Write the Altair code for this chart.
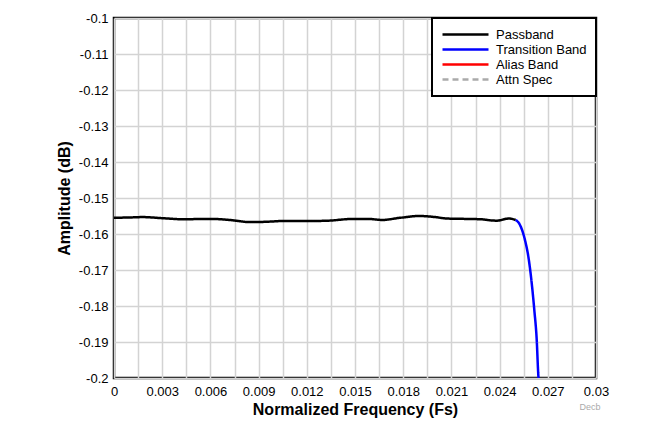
import altair as alt
import pandas as pd

# Passband ripple (frequency in Fs, amplitude in dB)
pass_f = [0.0, 0.0010, 0.0018, 0.0030, 0.0043, 0.0060, 0.0072, 0.0085, 0.0095, 0.0105,
          0.0120, 0.0133, 0.0149, 0.0158, 0.0167, 0.0178, 0.0190, 0.0200, 0.0207,
          0.0218, 0.0228, 0.0238, 0.0246, 0.0250]
pass_a = [-0.1555, -0.1554, -0.1553, -0.1556, -0.1559, -0.1558, -0.1561, -0.1567, -0.1566, -0.1564,
          -0.1564, -0.1563, -0.1558, -0.1558, -0.1561, -0.1555, -0.1550, -0.1553, -0.1557,
          -0.1558, -0.1559, -0.1563, -0.1557, -0.1561]

# Transition band roll-off
trans_f = [0.0250, 0.02527, 0.02558, 0.02579, 0.02600, 0.02616, 0.02631, 0.02641, 0.02650]
trans_a = [-0.1561, -0.1575, -0.1617, -0.1663, -0.1737, -0.1811, -0.1894, -0.1992, -0.2030]

series_names = ["Passband", "Transition Band", "Alias Band", "Attn Spec"]
series_colors = ["#000000", "#0000ff", "#ff0000", "#aaaaaa"]
series_dash = [[1, 0], [1, 0], [1, 0], [6, 4]]

x_grid = [round(i * 0.0015, 4) for i in range(21)]
y_grid = [round(-0.2 + i * 0.01, 2) for i in range(11)]

df = pd.concat([
    pd.DataFrame({"f": pass_f, "a": pass_a, "series": "Passband", "order": range(len(pass_f))}),
    pd.DataFrame({"f": trans_f, "a": trans_a, "series": "Transition Band", "order": range(len(trans_f))}),
])

FONT = "Liberation Sans"

lines = alt.Chart(df).mark_line(strokeWidth=2.5, clip=True, interpolate="monotone").encode(
    x=alt.X("f:Q", scale=alt.Scale(domain=[0, 0.03], nice=False),
            axis=alt.Axis(values=x_grid, title="Normalized Frequency (Fs)",
                          labelExpr="round(datum.value/0.0015) % 2 == 1 ? '' : format(datum.value, '.3~f')",
                          ticks=False, domain=False, labelPadding=7, titlePadding=3,
                          labelFlush=False)),
    y=alt.Y("a:Q", scale=alt.Scale(domain=[-0.2, -0.1], nice=False, zero=False),
            axis=alt.Axis(values=y_grid, title="Amplitude (dB)",
                          labelExpr="toString(round(datum.value*100)/100)",
                          ticks=False, domain=False, labelPadding=6, titlePadding=6,
                          labelFlush=False)),
    color=alt.Color("series:N", title=None,
                    scale=alt.Scale(domain=series_names, range=series_colors),
                    legend=alt.Legend(orient="top-right", offset=0, symbolType="stroke",
                                      symbolSize=2116, symbolStrokeWidth=2.5, clipHeight=15,
                                      rowPadding=0, labelOffset=6, labelFontSize=13,
                                      labelFont=FONT, padding=9, strokeColor="black",
                                      fillColor="white")),
    strokeDash=alt.StrokeDash("series:N", title=None,
                              scale=alt.Scale(domain=series_names, range=series_dash)),
    order="order:Q",
)

note = alt.Chart(pd.DataFrame({"t": ["Decb"]})).mark_text(
    fontSize=9, color="#aaaaaa", font=FONT, align="center"
).encode(text="t:N", x=alt.value(476), y=alt.value(389))

chart = alt.layer(lines, note).properties(
    width=482, height=360,
    autosize=alt.AutoSizeParams(type="none"),
    padding={"left": 106, "top": 10, "right": 57, "bottom": 45},
).configure_view(
    stroke="black", strokeWidth=2.5
).configure_axis(
    grid=True, gridColor="#d3d3d3", gridWidth=1.5,
    labelFont=FONT, labelFontSize=13, labelColor="black",
    titleFont=FONT, titleFontSize=16, titleFontWeight="bold", titleColor="black",
).configure_legend(
    strokeWidth=2
)

chart.save("out.html", embed_options={"renderer": "svg", "actions": False})
